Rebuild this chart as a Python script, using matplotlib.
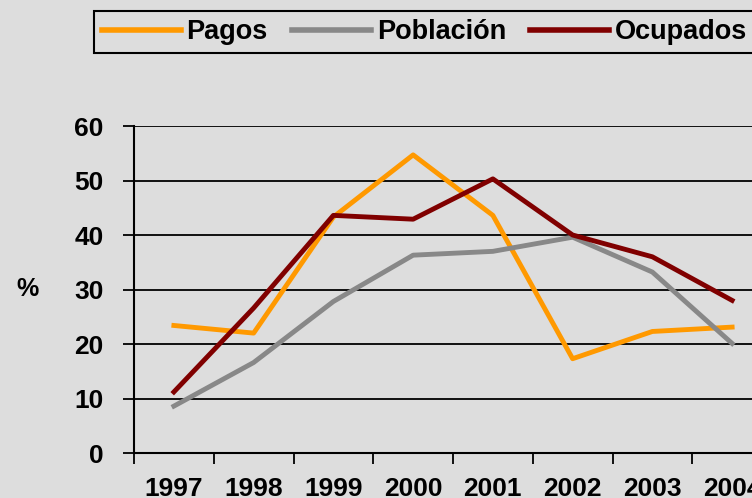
import numpy as np
import matplotlib
matplotlib.use("Agg")
import matplotlib.pyplot as plt

# datos
anios = ["1997", "1998", "1999", "2000", "2001", "2002", "2003", "2004"]
pagos = [23.4, 22.0, 43.3, 54.7, 43.6, 17.3, 22.3, 23.1]
poblacion = [8.6, 16.6, 27.8, 36.3, 37.0, 39.6, 33.2, 20.1]
ocupados = [11.2, 26.6, 43.6, 42.9, 50.3, 40.0, 36.0, 28.0]

fondo = "#dddddd"
plt.rcParams['font.family'] = ['Liberation Sans', 'DejaVu Sans']
plt.rcParams['font.weight'] = 'bold'

fig = plt.figure(figsize=(7.52, 4.98), dpi=100, facecolor=fondo)
ax = fig.add_axes([134/752, 45/498, 638/752, 327/498], facecolor=fondo)

x = np.arange(len(anios)) + 0.5
ax.plot(x, pagos, color="#ff9900", lw=3.5, label="Pagos")
ax.plot(x, poblacion, color="#888888", lw=3.5, label="Población")
ax.plot(x, ocupados, color="#800000", lw=3.5, label="Ocupados")

ax.set_xlim(0, len(anios))
ax.set_ylim(0, 60)
ax.set_yticks(range(0, 61, 10))
ax.yaxis.grid(True, color="black", lw=1.3)
ax.set_axisbelow(True)

# ticks en los limites de categoria, etiquetas en el centro
ax.set_xticks(np.arange(len(anios) + 1))
ax.set_xticklabels([])
ax.set_xticks(x, minor=True)
ax.set_xticklabels(anios, minor=True, fontsize=19, fontweight='bold')
ax.tick_params(axis='x', which='minor', length=0, pad=17)
ax.tick_params(axis='x', which='major', length=8, width=1.3, direction='out')
ax.tick_params(axis='y', length=8, width=1.3, labelsize=19, pad=14)
for lab in ax.get_yticklabels():
    lab.set_fontweight('bold')

for s in ['top', 'right']:
    ax.spines[s].set_visible(False)
for s in ['left', 'bottom']:
    ax.spines[s].set_linewidth(1.5)
ax.spines['bottom'].set_zorder(5)

fig.text(27/752, 1 - 289/498, "%", fontsize=18, fontweight='bold', ha='center', va='center')

leg = fig.legend(loc='upper left', bbox_to_anchor=(94/752, 1 - 11/498), ncol=3,
                 prop={'size': 19.5, 'weight': 'bold'}, fancybox=False,
                 edgecolor='black', facecolor=fondo, framealpha=1,
                 handlelength=2.9, handletextpad=0.22, columnspacing=0.9,
                 borderpad=0.3, borderaxespad=0)
leg.get_frame().set_linewidth(1.5)
for h in leg.get_lines():
    h.set_linewidth(4)

fig.savefig("out.png", dpi=100, facecolor=fondo)
